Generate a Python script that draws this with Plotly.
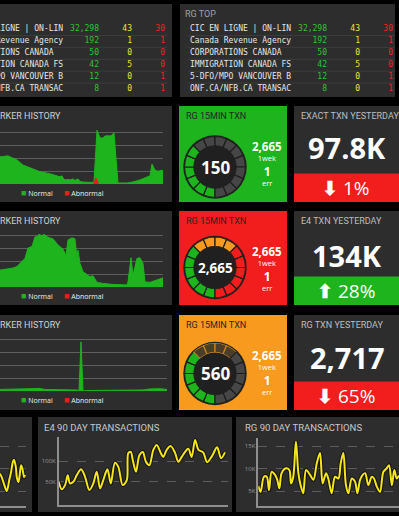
import plotly.graph_objects as go

W, H = 399, 516

# ---------------- data ----------------
top_title = "RG TOP"
top_names = ["CIC EN LIGNE | ON-LIN", "Canada Revenue Agency", "CORPORATIONS CANADA",
             "IMMIGRATION CANADA FS", "5-DFO/MPO VANCOUVER B", "ONF.CA/NFB.CA TRANSAC"]
top_ok = [32298, 192, 50, 42, 12, 8]
top_warn = [43, 1, 0, 5, 0, 0]
top_err = [30, 1, 0, 0, 1, 1]

hist_title = "RKER HISTORY"
hist_legend = ["Normal", "Abnormal"]
hist1_t = [0, 8, 10, 17, 23, 30, 40, 50, 60, 62, 63, 65, 68, 70, 73, 75, 78, 80, 82, 92,
           94, 97, 100, 103, 105, 111, 114, 116, 118, 127, 133, 140, 148, 150, 152, 155, 158, 163]
hist1_normal = [53, 55, 53, 47, 37, 31, 24, 20, 14, 16, 12, 8, 9, 8, 10, 7, 10, 5, 4, 3,
                4, 105, 90, 90, 94, 94, 100, 50, 2, 2, 4, 8, 14, 16, 39, 27, 25, 27]
hist1_abn_t = [0, 93, 95, 96, 97, 99, 163]
hist1_abn = [0, 0, 10, 13, 10, 0, 0]

hist2_t = [0, 7, 13, 17, 20, 25, 28, 32, 35, 37, 39, 42, 44, 48, 53, 58, 63, 66, 68, 72,
           75, 77, 78, 80, 83, 87, 90, 93, 97, 103, 113, 127, 128, 131, 133, 137, 140, 143, 145, 150,
           157, 163]
hist2_normal = [33, 35, 37, 40, 46, 56, 76, 79, 98, 98, 103, 100, 103, 97, 94, 82, 74, 62, 92, 96,
                94, 56, 72, 46, 30, 25, 20, 22, 9, 7, 5, 4, 10, 57, 23, 56, 57, 46, 10, 9,
                14, 18]
hist2_abn_t = [0, 163]
hist2_abn = [0, 0]

hist3_t = [0, 30, 40, 45, 77, 79, 81, 83, 87, 143, 150, 160, 167]
hist3_normal = [3, 4, 5, 3, 2, 0, 96, 0, 1, 2, 4, 4.5, 3]
hist3_abn_t = [0, 167]
hist3_abn = [0, 0]

gauge_title = "RG 15MIN TXN"
gauge_values = [150, 2665, 560]
gauge_week = [2665, 2665, 2665]
gauge_err = [1, 1, 1]
gauge_lit = [6, 16, 6]
gauge_dim = [0, 0, 4]
gauge_state = ["ok", "critical", "warning"]

stat_titles = ["EXACT TXN YESTERDAY", "E4 TXN YESTERDAY", "RG TXN YESTERDAY"]
stat_values = ["97.8K", "134K", "2,717"]
stat_change_pct = [-1, 28, -65]

rgA_day = [0, 0.9, 2.1, 3.6, 4.9, 5.9, 6.8, 7.4, 8.4, 8.9, 9.7, 10.3, 11.2, 11.9, 12.8, 13.3]
rgA_txn = [8900, 8100, 6600, 5000, 7400, 9300, 11500, 12000, 10400, 8100, 7000, 8100, 10800,
           10000, 8100, 8600]

e4_title = "E4 90 DAY TRANSACTIONS"
e4_day = [0, 1.6, 3.4, 4.8, 6, 7.8, 9.6, 11.9, 14, 16.3, 18.4, 20.2, 22, 23.7, 25.9, 27.7, 29.9,
          31.7, 34, 36.2, 37, 38.3, 39.4, 41.1, 42.9, 44.7, 46.4, 48.2, 50.3, 52.1, 54.3, 55.6,
          57.4, 59.6, 61.9, 63.6, 65.4, 67.2, 68.9, 70.7, 72.5, 74.3, 76.8, 78.9, 81.5, 84.2,
          86.3, 88.4]
e4_txn = [50000, 32000, 42000, 66000, 46000, 50000, 66000, 80000, 62000, 30000, 46000, 74000,
          34000, 54000, 80000, 46000, 96000, 86000, 42000, 54000, 119000, 122000, 102000, 74000,
          114000, 122000, 98000, 90000, 127000, 139000, 119000, 110000, 127000, 136000, 119000,
          98000, 110000, 122000, 130000, 110000, 151000, 127000, 121000, 97000, 112000, 133000,
          107000, 121000]
e4_ticks = [50000, 100000]
e4_ticklabels = ["50K", "100K"]

rg_title = "RG 90 DAY TRANSACTIONS"
rg_day = [0, 1.2, 3, 4.5, 5.7, 7.1, 8.9, 10.1, 11.2, 12.4, 14.7, 16.5, 17.4, 18.6, 20, 21.3,
          22.5, 23.9, 25.4, 27.5, 29.3, 31.1, 32.8, 34.2, 36, 37.2, 39, 40.8, 42.6, 43.8, 45.2,
          46.6, 47.9, 49.7, 51.4, 52.7, 54.1, 55.5, 56.8, 58.5, 60.3, 61.5, 63, 64.7, 66.5, 68.3,
          69.5, 71, 72.3, 73.6, 74.8]
rg_txn = [6100, 4800, 8200, 8200, 5200, 9300, 8600, 7500, 5600, 9000, 10100, 9700, 6700, 8200,
          16100, 9000, 6300, 4500, 9700, 8600, 7500, 11200, 13500, 6700, 9000, 7800, 4500, 8200,
          7800, 11200, 13500, 6300, 4500, 7800, 7100, 4500, 7500, 8600, 9000, 6300, 8200, 7800,
          6000, 4800, 9300, 10100, 10800, 6300, 9700, 7800, 8500]
rg_ticks = [5000, 10000, 15000]
rg_ticklabels = ["5K", "10K", "15K"]

# ---------------- style ----------------
BG = "#000000"
PANEL = "#2d2d2d"
GREEN = "#1db41d"
RED = "#f21d1d"
ORANGE = "#f79a1e"
YELLOW = "#f5e61c"
OFF = "#464646"
TITLE_FONT = "Liberation Sans Narrow, Roboto, sans-serif"
SANS = "Open Sans, Noto Sans, sans-serif"
MONO = "DejaVu Sans Mono, monospace"
state_color = {"ok": GREEN, "critical": RED, "warning": ORANGE}


def fx(px):
    return px / W


def fy(py):
    return 1 - py / H


shapes = []
ann = []


def rect(x0, y0, x1, y1, color):
    shapes.append(dict(type="rect", xref="paper", yref="paper", x0=fx(x0), x1=fx(x1),
                       y0=fy(y1), y1=fy(y0), fillcolor=color, line=dict(width=0), layer="below"))


def circle(cx, cy, r, color):
    shapes.append(dict(type="circle", xref="paper", yref="paper", x0=fx(cx - r), x1=fx(cx + r),
                       y0=fy(cy + r), y1=fy(cy - r), fillcolor=color, line=dict(width=0),
                       layer="below"))


def text(x, y, s, size, color, family=SANS, xanchor="center", bold=False):
    ann.append(dict(x=fx(x), y=fy(y), xref="paper", yref="paper",
                    text=f"<b>{s}</b>" if bold else s, showarrow=False, xanchor=xanchor,
                    yanchor="middle", font=dict(family=family, size=size, color=color),
                    borderpad=0))


fig = go.Figure()
layout_axes = {}


def axes(n, xd, yd):
    s = "" if n == 1 else str(n)
    xd.update(anchor=f"y{s}", automargin=False)
    yd.update(anchor=f"x{s}", automargin=False)
    layout_axes[f"xaxis{s}"] = xd
    layout_axes[f"yaxis{s}"] = yd


# ---------------- top row: tables ----------------
rect(-60, 4, 172, 97, PANEL)
rect(180, 4, 395, 97, PANEL)
text(184, 14, top_title, 9, "#a0a0a0", TITLE_FONT, "left")

col_anchor = [10, 147, 180, 213]
col_cols = ["#e6e6e6", "#2fc42f", "#f2e234", "#ee2424"]
col_vals = [top_names, [f"{v:,}" for v in top_ok], [str(v) for v in top_warn],
            [str(v) for v in top_err]]
rows = list(range(len(top_names)))
for k, (dom, rng) in enumerate([([0, fx(172)], [48, 220]), ([fx(180), fx(395)], [0, 215])]):
    ax = 7 + k
    for c in range(4):
        fig.add_trace(go.Scatter(
            x=[col_anchor[c]] * len(rows), y=rows, mode="text", text=col_vals[c],
            textposition="middle right" if c == 0 else "middle left",
            textfont=dict(family=MONO, size=8, color=col_cols[c]),
            xaxis=f"x{ax}", yaxis=f"y{ax}", hoverinfo="skip", cliponaxis=True))
    axes(ax, dict(domain=dom, range=rng, visible=False, fixedrange=True),
         dict(domain=[fy(95), fy(23.5)], range=[5.5, -0.5], visible=False, fixedrange=True))
    for r in rows[:-1]:
        shapes.append(dict(type="line", xref=f"x{ax}", yref=f"y{ax}", x0=8, x1=215,
                           y0=r + 0.5, y1=r + 0.5, line=dict(color="#3d3d3d", width=1)))

# ---------------- middle rows ----------------
ROW_TOP = [106, 211, 315]
ROW_BOT = [202, 305, 410]
HIST_BASE = [184, 287, 391]
HIST_RIGHT = [163, 163, 167]
GAUGE_CY = [167, 267.5, 373.5]
STAT_VY = [147.5, 255, 357]
hists = [(hist1_t, hist1_normal, hist1_abn_t, hist1_abn),
         (hist2_t, hist2_normal, hist2_abn_t, hist2_abn),
         (hist3_t, hist3_normal, hist3_abn_t, hist3_abn)]
GRID_PX = 12.8
GRID_VAL = 25
HIST_MAX = 110

for i in range(3):
    top, bot = ROW_TOP[i], ROW_BOT[i]
    # history panel
    rect(-60, top, 172, bot, PANEL)
    text(-1, top + 9.7, hist_title, 9, "#d0d0d0", TITLE_FONT, "left")
    t, nv, at, av = hists[i]
    ax = "" if i == 0 else str(i + 1)
    fig.add_trace(go.Scatter(x=t, y=nv, mode="lines", fill="tozeroy", fillcolor=GREEN,
                             line=dict(color=GREEN, width=1), xaxis=f"x{ax}", yaxis=f"y{ax}",
                             hoverinfo="skip"))
    fig.add_trace(go.Scatter(x=at, y=av, mode="lines", fill="tozeroy", fillcolor="#ee1a1a",
                             line=dict(color="#ee1a1a", width=0), xaxis=f"x{ax}", yaxis=f"y{ax}",
                             hoverinfo="skip"))
    base = HIST_BASE[i]
    axes(i + 1,
         dict(domain=[0, fx(HIST_RIGHT[i])], range=[0, HIST_RIGHT[i]], visible=False,
              fixedrange=True),
         dict(domain=[fy(base), fy(base - HIST_MAX * GRID_PX / GRID_VAL)],
              range=[0, HIST_MAX], showticklabels=False, ticks="",
              tickvals=[0, 25, 50, 75, 100], showgrid=True,
              gridcolor="#5e5e5e", gridwidth=1, zeroline=False,
              showline=False, fixedrange=True))
    ly = base + 8
    text(20, ly, f"<span style='color:{GREEN};font-size:9px'>■</span> {hist_legend[0]}", 7,
         "#f0f0f0", SANS, "left")
    text(63, ly, f"<span style='color:#ee1a1a;font-size:9px'>■</span> {hist_legend[1]}", 7,
         "#f0f0f0", SANS, "left")

    # gauge panel
    gcol = state_color[gauge_state[i]]
    rect(179, top, 287, bot, gcol)
    text(185, top + 9.7, gauge_title, 9, "#262626", TITLE_FONT, "left")
    cx, cy, rr = 215, GAUGE_CY[i], 30.5
    circle(cx, cy, rr + 1.2, "#202020")
    zone = [GREEN] * 6 + [ORANGE] * 4 + [RED] * 6
    seg_col, seg_line = [], []
    for s in range(16):
        if s < gauge_lit[i]:
            seg_col.append(zone[s])
            seg_line.append("#1c1c1c")
        elif s < gauge_lit[i] + gauge_dim[i]:
            seg_col.append("#4a3e2a")
            seg_line.append("#c98520")
        else:
            seg_col.append(OFF)
            seg_line.append("#1c1c1c")
    pk = "polar" if i == 0 else f"polar{i + 1}"
    fig.add_trace(go.Barpolar(r=[1] * 16, theta=[22.5 * s + 11.25 for s in range(16)],
                              width=[22.5] * 16,
                              marker=dict(color=seg_col, line=dict(color=seg_line, width=1.2)),
                              subplot=pk, hoverinfo="skip"))
    layout_axes[pk] = dict(domain=dict(x=[fx(cx - rr), fx(cx + rr)], y=[fy(cy + rr), fy(cy - rr)]),
                           hole=0.69, bgcolor="rgba(0,0,0,0)",
                           radialaxis=dict(visible=False, range=[0, 1]),
                           angularaxis=dict(visible=False, rotation=270, direction="clockwise"))
    gv = f"{gauge_values[i]:,}"
    text(cx, cy, gv, 17 if len(gv) <= 3 else 13.5, "#ffffff", SANS, bold=True)
    text(267, top + 45, f"<b><span style='font-size:11.5px'>{gauge_week[i]:,}</span></b>"
         f"<br>1wek", 7.5, "#ffffff", SANS)
    text(267, top + 69.5, f"<b><span style='font-size:12px'>{gauge_err[i]}</span></b><br>err",
         7.5, "#ffffff", SANS)

    # stat panel
    chg = stat_change_pct[i]
    bcol = GREEN if chg > 0 else RED
    rect(294, top, 400, bot, PANEL)
    rect(294, bot - 28.5, 400, bot, bcol)
    text(300, top + 9.7, stat_titles[i], 9, "#bdbdbd", TITLE_FONT, "left")
    text(347, STAT_VY[i], stat_values[i], 29, "#ffffff", SANS, bold=True)
    arrow = "⬆" if chg > 0 else "⬇"
    text(346, bot - 14, f"<b>{arrow}</b> {abs(chg)}%", 19, "#ffffff", SANS)

# ---------------- bottom row ----------------
rect(-60, 417, 32, 512, PANEL)
rect(38, 417, 232, 512, PANEL)
rect(236, 417, 400, 512, PANEL)
text(43, 427, e4_title, 9.5, "#c8c8c8", TITLE_FONT, "left")
text(244, 427, rg_title, 9.5, "#c8c8c8", TITLE_FONT, "left")

line_specs = [
    (4, rgA_day, rgA_txn, [0, fx(26)], [fy(506), fy(438)], [0, 13.8], [1640, 16880],
     rg_ticks, rg_ticklabels, False),
    (5, e4_day, e4_txn, [fx(58.7), fx(228)], [fy(505), fy(437)], [0, 90], [-6000, 158000],
     e4_ticks, e4_ticklabels, True),
    (6, rg_day, rg_txn, [fx(258.3), 1.0], [fy(506), fy(438)], [0, 74.8], [1640, 16880],
     rg_ticks, rg_ticklabels, True),
]
for n, xd, yd, xdom, ydom, xr, yr, tv, tt, show in line_specs:
    fig.add_trace(go.Scatter(x=xd, y=yd, mode="lines",
                             line=dict(color="#141414", width=4, shape="spline", smoothing=0.9),
                             xaxis=f"x{n}", yaxis=f"y{n}", hoverinfo="skip"))
    fig.add_trace(go.Scatter(x=xd, y=yd, mode="lines",
                             line=dict(color=YELLOW, width=2, shape="spline", smoothing=0.9),
                             xaxis=f"x{n}", yaxis=f"y{n}", hoverinfo="skip"))
    axes(n,
         dict(domain=xdom, range=xr, showgrid=False, zeroline=False,
              showticklabels=False, ticks="", showline=True,
              linecolor="#8e8e8e", linewidth=1.5, fixedrange=True),
         dict(domain=ydom, range=yr, tickvals=tv, ticktext=tt,
              showticklabels=show, ticks="", showgrid=True,
              gridcolor="#5c5c5c", griddash="dash", gridwidth=1,
              zeroline=False, showline=show, linecolor="#8e8e8e",
              linewidth=1.5, tickfont=dict(family=SANS, size=6, color="#9a9a9a"),
              fixedrange=True))

fig.update_layout(
    width=W, height=H, margin=dict(l=0, r=0, t=0, b=0, pad=0, autoexpand=False),
    paper_bgcolor=BG, plot_bgcolor="rgba(0,0,0,0)", showlegend=False,
    shapes=shapes, annotations=ann, hovermode=False, **layout_axes)

fig.write_html(
    "out.html", config={"displayModeBar": False},
    post_script="document.documentElement.style.margin='0';document.body.style.margin='0';"
                "document.body.style.overflow='hidden';document.body.style.background='#000';")
